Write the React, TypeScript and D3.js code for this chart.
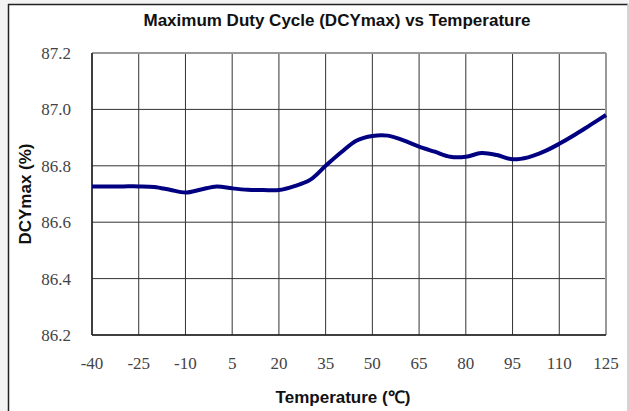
import React from 'react'
import * as d3 from 'd3'

// readings taken off the curve, every 5 degC
const temps = [-40, -35, -30, -25, -20, -15, -10, -5, 0, 5, 10, 15, 20, 25, 30, 35, 40, 45, 50, 55, 60, 65, 70, 75, 80, 85, 90, 95, 100, 105, 110, 115, 120, 125]
const dcy = [86.727, 86.727, 86.727, 86.727, 86.725, 86.715, 86.705, 86.716, 86.727, 86.72, 86.715, 86.714, 86.714, 86.728, 86.75, 86.8, 86.848, 86.89, 86.906, 86.907, 86.89, 86.868, 86.85, 86.832, 86.832, 86.845, 86.838, 86.823, 86.83, 86.85, 86.878, 86.91, 86.945, 86.98]

const xTicks = [-40, -25, -10, 5, 20, 35, 50, 65, 80, 95, 110, 125]
const yTicks = [86.2, 86.4, 86.6, 86.8, 87.0, 87.2]

const W = 629
const H = 411
const left = 92
const right = 606
const top = 53
const bottom = 335

export default function App() {
    const x = d3.scaleLinear().domain([-40, 125]).range([left, right])
    const y = d3.scaleLinear().domain([86.2, 87.2]).range([bottom, top])

    const line = d3.line<number>()
        .x((d, i) => x(temps[i]))
        .y(d => y(d))
        .curve(d3.curveCatmullRom.alpha(0.5))

    const sans = 'Liberation Sans, Arial, sans-serif'
    const serif = 'Liberation Serif, Times New Roman, serif'

    return (
        <div style={{ position: 'fixed', left: 0, top: 0 }}>
            <svg width={W} height={H} style={{ display: 'block' }}>
                <rect x={0} y={0} width={W} height={H} fill="#f3f3f3" />
                <rect x={8} y={4.5} width={620} height={H} fill="#fff" />
                <line x1={8} x2={628} y1={4.5} y2={4.5} stroke="#222" strokeWidth={1.5} />
                <line x1={8.5} x2={8.5} y1={4} y2={H} stroke="#222" strokeWidth={1.5} />
                <line x1={628} x2={628} y1={4} y2={H} stroke="#c8c8c8" strokeWidth={1.5} />

                <text x={337} y={26} textAnchor="middle" fontFamily={sans} fontWeight="bold" fontSize={17} fill="#111">
                    Maximum Duty Cycle (DCYmax) vs Temperature
                </text>

                {yTicks.map(t => (
                    <g key={'y' + t}>
                        <line x1={left} x2={right} y1={y(t)} y2={y(t)} stroke="#333" strokeWidth={1} />
                        <text x={71} y={y(t)} dy="0.35em" textAnchor="end" fontFamily={serif} fontSize={17} fill="#444">
                            {t.toFixed(1)}
                        </text>
                    </g>
                ))}
                {xTicks.map(t => (
                    <g key={'x' + t}>
                        <line x1={x(t)} x2={x(t)} y1={top} y2={bottom} stroke="#333" strokeWidth={1} />
                        <text x={x(t)} y={369} textAnchor="middle" fontFamily={serif} fontSize={17} fill="#444">
                            {t}
                        </text>
                    </g>
                ))}

                <line x1={left} x2={right} y1={top} y2={top} stroke="#999" strokeWidth={2} />
                <line x1={right} x2={right} y1={top} y2={bottom} stroke="#999" strokeWidth={2} />
                <line x1={left} x2={right} y1={bottom} y2={bottom} stroke="#222" strokeWidth={1.5} />
                <line x1={left} x2={left} y1={top} y2={bottom} stroke="#222" strokeWidth={1.5} />

                <path d={line(dcy) || ''} fill="none" stroke="#000080" strokeWidth={4} strokeLinejoin="round" />

                <text transform={`translate(31,${(top + bottom) / 2}) rotate(-90)`} textAnchor="middle" fontFamily={sans} fontWeight="bold" fontSize={17} fill="#111">
                    DCYmax (%)
                </text>
                <text x={343} y={403} textAnchor="middle" fontFamily={sans} fontWeight="bold" fontSize={17} fill="#111">
                    Temperature (℃)
                </text>
            </svg>
        </div>
    )
}
